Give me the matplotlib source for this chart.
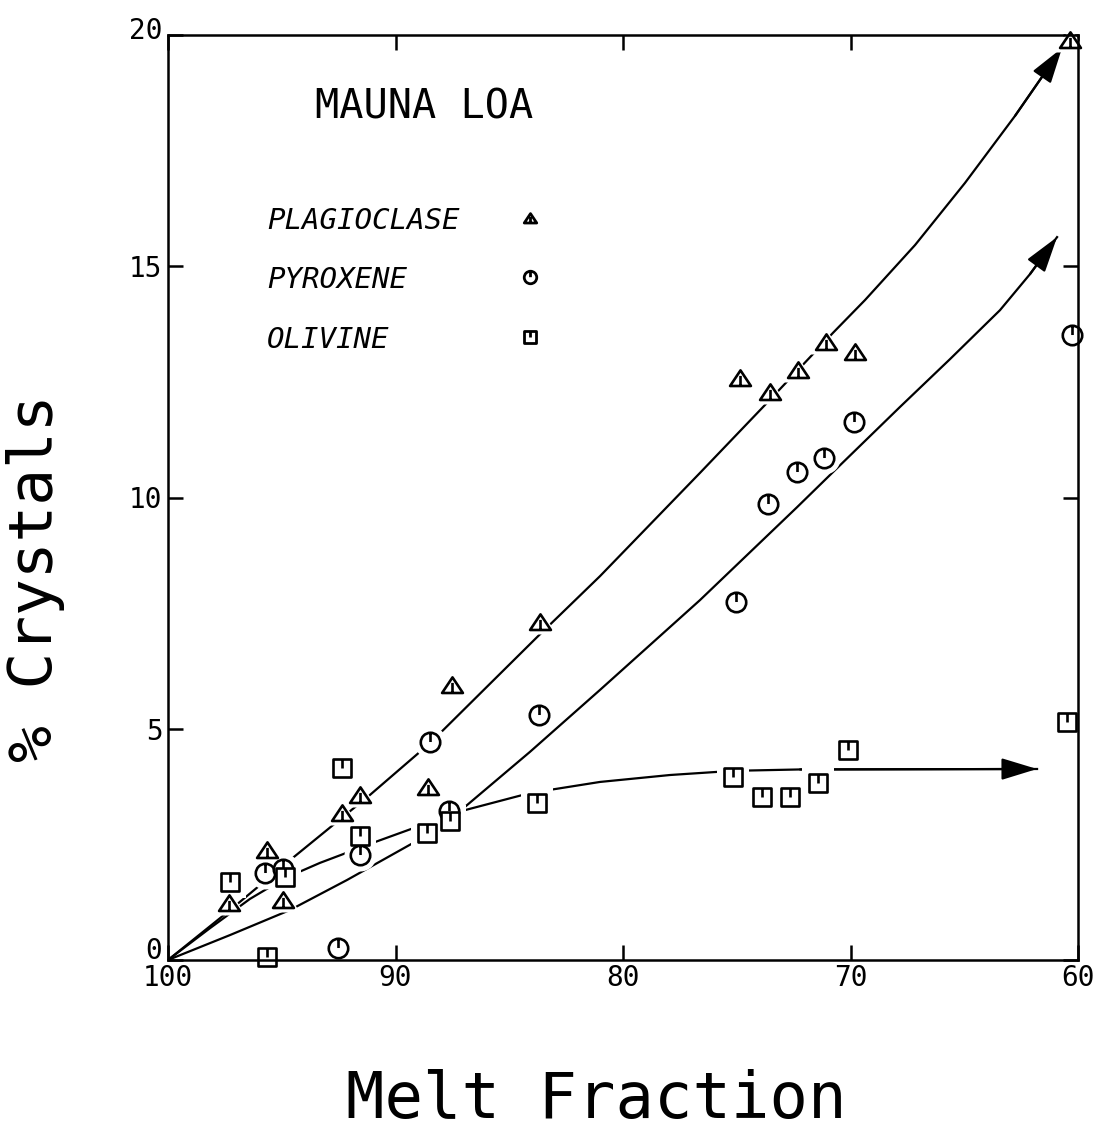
import matplotlib
matplotlib.use("Agg")
import matplotlib.pyplot as plt
import matplotlib.transforms as mtransforms
from matplotlib.path import Path

# ---- measured crystal abundances (% crystals vs. melt fraction) ----
plag_melt = [97.3, 95.65, 94.95, 92.35, 91.56, 88.57, 87.52, 83.65, 74.86, 73.54, 72.31, 71.08, 69.80, 60.35]
plag_pct = [1.23, 2.38, 1.30, 3.18, 3.57, 3.74, 5.95, 7.31, 12.58, 12.28, 12.76, 13.36, 13.15, 19.89]

pyx_melt = [95.74, 94.95, 91.56, 92.53, 88.48, 87.65, 83.69, 75.03, 73.63, 72.35, 71.16, 69.85, 60.26]
pyx_pct = [1.88, 1.97, 2.27, 0.26, 4.71, 3.22, 5.30, 7.74, 9.86, 10.55, 10.85, 11.63, 13.51]

oliv_melt = [97.27, 95.65, 94.86, 92.35, 91.56, 88.62, 87.60, 83.78, 75.16, 73.89, 72.66, 71.43, 70.11, 60.48]
oliv_pct = [1.69, 0.06, 1.79, 4.15, 2.68, 2.75, 3.01, 3.39, 3.96, 3.52, 3.52, 3.83, 4.54, 5.15]

# ---- hand-drawn trend curves (last point is the arrow tip) ----
plag_curve_x = [100.0, 97.27, 94.51, 91.12, 88.48, 83.78, 81.01, 76.62, 73.76, 70.77, 69.36, 67.16, 64.97, 62.77, 60.70]
plag_curve_y = [0.0, 1.08, 2.21, 3.57, 4.69, 6.98, 8.30, 10.53, 12.00, 13.56, 14.27, 15.46, 16.80, 18.25, 19.72]

pyx_curve_x = [100.0, 97.27, 94.64, 92.13, 89.01, 86.95, 84.09, 81.01, 76.62, 72.35, 70.81, 67.82, 65.63, 63.43, 62.11, 60.92]
pyx_curve_y = [0.0, 0.54, 1.08, 1.73, 2.59, 3.31, 4.50, 5.84, 7.78, 9.79, 10.53, 11.96, 12.99, 14.05, 14.83, 15.63]

oliv_curve_x = [100.0, 98.15, 96.40, 94.86, 93.32, 90.90, 89.05, 86.95, 84.09, 81.01, 77.93, 75.16, 72.22, 61.80]
oliv_curve_y = [0.0, 0.69, 1.32, 1.77, 2.10, 2.55, 2.88, 3.24, 3.61, 3.85, 4.00, 4.09, 4.12, 4.13]

x_ticks = [100, 90, 80, 70, 60]
y_ticks = [0, 5, 10, 15, 20]

title_text = "MAUNA LOA"
legend_names = ["PLAGIOCLASE", "PYROXENE", "OLIVINE"]
x_label = "Melt Fraction"
y_label = "% Crystals"

MONO = "DejaVu Sans Mono"


def with_tick(outline, tick):
    """Closed marker outline plus a short internal stroke."""
    body = Path(outline + [outline[0]],
                [Path.MOVETO] + [Path.LINETO] * (len(outline) - 1) + [Path.CLOSEPOLY])
    stem = Path(tick, [Path.MOVETO, Path.LINETO])
    return Path.make_compound_path(body, stem)


circle_marker = Path.make_compound_path(
    Path.unit_circle(), Path([(0, 1), (0, 0.05)], [Path.MOVETO, Path.LINETO]))
square_marker = with_tick([(-1, -1), (1, -1), (1, 1), (-1, 1)], [(0, 1), (0, 0.05)])
triangle_marker = with_tick([(-1, -0.72), (1, -0.72), (0, 0.78)], [(0, 0.25), (0, -0.72)])

fig = plt.figure(figsize=(11, 11.3), dpi=100)
ax = fig.add_axes([168 / 1100, 170 / 1130, 910 / 1100, 925 / 1130])
ax.set_xlim(100, 60)
ax.set_ylim(0, 20)

# trend curves with arrowheads
for cx, cy in [(plag_curve_x, plag_curve_y), (pyx_curve_x, pyx_curve_y), (oliv_curve_x, oliv_curve_y)]:
    ax.plot(cx, cy, color="black", lw=1.6, zorder=2, solid_joinstyle="round")
    ax.annotate("", xy=(cx[-1], cy[-1]), xytext=(cx[-2], cy[-2]),
                arrowprops=dict(arrowstyle="-|>,head_length=0.85,head_width=0.26",
                                mutation_scale=26, color="black", lw=1.6,
                                shrinkA=0, shrinkB=0), zorder=2)

# data symbols, each with a white halo that breaks the curves around it
for mx, my, mk, ms in [(plag_melt, plag_pct, triangle_marker, 15),
                       (pyx_melt, pyx_pct, circle_marker, 14),
                       (oliv_melt, oliv_pct, square_marker, 13.5)]:
    ax.plot(mx, my, ls="none", marker=mk, ms=ms + 9, mfc="white", mec="white",
            mew=0, zorder=3, clip_on=False)
    ax.plot(mx, my, ls="none", marker=mk, ms=ms, mfc="white", mec="black",
            mew=1.9, zorder=4, clip_on=False)

# axes frame and ticks
for s in ax.spines.values():
    s.set_linewidth(1.8)
    s.set_zorder(5)
ax.set_xticks(x_ticks)
ax.set_yticks(y_ticks)
ax.set_xticklabels([str(v) for v in x_ticks], fontfamily=MONO, fontsize=20)
ax.set_yticklabels([str(v) for v in y_ticks], fontfamily=MONO, fontsize=20)
ax.tick_params(direction="in", length=11, width=1.8, top=True, right=True)
ax.tick_params(axis="x", pad=3)
ax.tick_params(axis="y", pad=4)

# nudge the end labels of the y axis upward, as the plotter set them
ylabels = ax.get_yticklabels()
for lbl, dy in [(ylabels[0], 12), (ylabels[-1], 7)]:
    lbl.set_transform(lbl.get_transform() + mtransforms.ScaledTranslation(0, dy / 100, fig.dpi_scale_trans))

fig.text(596 / 1100, 1 - 1100 / 1130, x_label, fontfamily=MONO, fontsize=46,
         ha="center", va="center")
fig.text(36 / 1100, 1 - 578 / 1130, y_label, fontfamily=MONO, fontsize=44,
         ha="center", va="center", rotation=90)

# title and key
ax.text(0.1615, 0.922, title_text, transform=ax.transAxes, fontfamily=MONO,
        fontsize=29, va="center", ha="left")
key_y = [0.799, 0.735, 0.670]
key_markers = [triangle_marker, circle_marker, square_marker]
for name, yk, mk in zip(legend_names, key_y, key_markers):
    ax.text(0.1088, yk, name, transform=ax.transAxes, fontfamily=MONO,
            fontstyle="oblique", fontsize=21, va="center", ha="left")
    ax.plot([0.398], [yk + 0.003], transform=ax.transAxes, ls="none", marker=mk,
            ms=9, mfc="white", mec="black", mew=2.0, zorder=4)

fig.savefig("out.png", dpi=100)
